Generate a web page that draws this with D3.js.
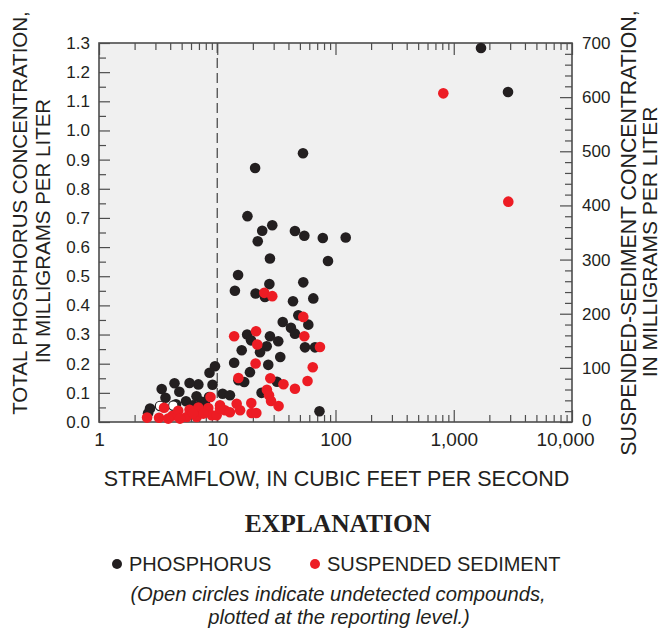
<!DOCTYPE html>
<html>
<head>
<meta charset="utf-8">
<script src="https://cdn.jsdelivr.net/npm/d3@7"></script>
<style>
  body { margin: 0; background: #fff; }
  svg { display: block; font-family: "Liberation Sans", Arial, sans-serif; }
</style>
</head>
<body>
<svg width="662" height="629"></svg>
<script>
// streamflow (cfs) vs total phosphorus (mg/L)
const phosFlow = [1700, 2876, 53.1, 20.9, 18.0, 24.0, 29.2, 45.4, 54.5, 78.1, 122, 22.0, 27.9, 86.4, 15.0,
  14.1, 27.6, 53.4, 21.1, 25.3, 43.7, 64.9, 35.8, 48.5, 42.0, 45.4, 58.9, 17.9, 19.3, 27.9, 32.8, 26.2,
  23.0, 16.1, 34.1, 13.9, 27.0, 18.9, 15.1, 16.9, 32.0, 23.7, 73.2, 67.1, 55.2, 9.57, 8.60, 9.12, 11.1,
  12.8, 6.92, 5.83, 4.35, 3.39, 4.78, 3.65, 6.68, 5.44, 7.39, 8.52, 2.70, 2.60, 6.24, 7.88, 4.48];
const phosConc = [1.283, 1.132, 0.922, 0.871, 0.706, 0.656, 0.675, 0.655, 0.639, 0.631, 0.633, 0.620, 0.561,
  0.552, 0.504, 0.450, 0.473, 0.479, 0.441, 0.429, 0.414, 0.424, 0.343, 0.366, 0.323, 0.303, 0.334, 0.300,
  0.280, 0.294, 0.277, 0.260, 0.239, 0.246, 0.223, 0.203, 0.196, 0.171, 0.143, 0.137, 0.138, 0.100, 0.037,
  0.256, 0.256, 0.191, 0.169, 0.128, 0.097, 0.092, 0.129, 0.134, 0.133, 0.113, 0.104, 0.083, 0.088, 0.071,
  0.069, 0.086, 0.046, 0.030, 0.057, 0.061, 0.061];

// undetected phosphorus, plotted at reporting level
const openFlow = [3.28, 4.25];
const openConc = [0.055, 0.056];

// streamflow (cfs) vs suspended sediment (mg/L)
const sedFlow = [816, 2893, 25.0, 29.2, 53.4, 54.5, 73.9, 13.9, 21.3, 21.8, 21.1, 15.1, 28.1, 36.3, 64.2,
  58.0, 45.4, 26.3, 27.4, 28.5, 33.0, 19.4, 19.5, 21.4, 14.6, 10.55, 8.77, 3.55, 2.55, 3.22, 4.18, 4.68,
  5.83, 6.92, 8.40, 11.6, 8.98, 5.51, 6.70, 4.84, 3.85, 7.62, 9.89, 12.8, 15.6, 10.55, 6.24];
const sedConc = [607, 407, 238.5, 232.4, 194.1, 158.4, 138.6, 158.4, 167.7, 143.1, 108, 81.3, 80.8, 69.7,
  101.1, 75.8, 61.4, 59.5, 49.4, 38.8, 29.4, 35.1, 16.6, 16.6, 33.6, 30.9, 46.2, 26.2, 8.1, 7.8, 11.5,
  20.7, 22.6, 26.6, 25.9, 21.6, 12.4, 9.2, 9.2, 6.3, 6.3, 15.5, 12.4, 17.9, 21.6, 24.8, 16.1];

const xTicks = [1, 10, 100, 1000, 10000];
const phosTicks = d3.range(0, 14).map(i => i / 10);
const sedTicks = [0, 100, 200, 300, 400, 500, 600, 700];
const refFlow = 10;

const plot = { l: 99, r: 572, t: 43, b: 422 };
const svg = d3.select("svg");
const axisColor = "#4d4d4d";

const x = d3.scaleLog().domain([1, 10000]).range([plot.l, plot.r]);
const yP = d3.scaleLinear().domain([0, 1.3]).range([plot.b, plot.t]);
const yS = d3.scaleLinear().domain([0, 700]).range([plot.b, plot.t]);

svg.append("rect")
  .attr("x", plot.l).attr("y", plot.t)
  .attr("width", plot.r - plot.l).attr("height", plot.b - plot.t)
  .attr("fill", "#f0f0f0");

// minor ticks on x: 2..9 in every decade
const xMinor = [];
for (let d = 1; d < 10000; d *= 10) for (let k = 2; k < 10; k++) xMinor.push(d * k);

function styleAxis(g) {
  g.select(".domain").remove();
  g.selectAll("line").attr("stroke", axisColor).attr("stroke-width", 1.2);
  g.selectAll("text").attr("fill", "#231f20");
}

// bottom
svg.append("g").attr("transform", `translate(0,${plot.b})`)
  .call(d3.axisBottom(x).tickValues(xMinor).tickSize(-7).tickFormat(""))
  .call(styleAxis);
svg.append("g").attr("transform", `translate(0,${plot.b})`)
  .call(d3.axisBottom(x).tickValues(xTicks).tickSize(-12).tickPadding(11).tickFormat(d3.format(",")))
  .call(styleAxis)
  .selectAll("text").attr("font-size", 19)
  .attr("dx", d => d === 10000 ? -7 : 0);
// top
svg.append("g").attr("transform", `translate(0,${plot.t})`)
  .call(d3.axisTop(x).tickValues(xMinor).tickSize(-7).tickFormat(""))
  .call(styleAxis);
svg.append("g").attr("transform", `translate(0,${plot.t})`)
  .call(d3.axisTop(x).tickValues(xTicks).tickSize(-12).tickFormat(""))
  .call(styleAxis);
// left
svg.append("g").attr("transform", `translate(${plot.l},0)`)
  .call(d3.axisLeft(yP).tickValues(phosTicks.map(v => v + 0.05).filter(v => v < 1.3)).tickSize(-7).tickFormat(""))
  .call(styleAxis);
svg.append("g").attr("transform", `translate(${plot.l},0)`)
  .call(d3.axisLeft(yP).tickValues(phosTicks).tickSize(-11).tickPadding(9).tickFormat(d3.format(".1f")))
  .call(styleAxis)
  .selectAll("text").attr("font-size", 17);
// right
const sedMinor = d3.range(20, 700, 20).filter(v => v % 100 !== 0);
svg.append("g").attr("transform", `translate(${plot.r},0)`)
  .call(d3.axisRight(yS).tickValues(sedMinor).tickSize(-7).tickFormat(""))
  .call(styleAxis);
svg.append("g").attr("transform", `translate(${plot.r},0)`)
  .call(d3.axisRight(yS).tickValues(sedTicks).tickSize(-12).tickPadding(10).tickFormat(d3.format("d")))
  .call(styleAxis)
  .selectAll("text").attr("font-size", 17)
  .attr("dy", d => d === 0 ? "0.2em" : "0.32em");

// frame
svg.append("rect")
  .attr("x", plot.l).attr("y", plot.t)
  .attr("width", plot.r - plot.l).attr("height", plot.b - plot.t)
  .attr("fill", "none").attr("stroke", axisColor).attr("stroke-width", 1.6);

// dashed line at 10 cfs
svg.append("line")
  .attr("x1", x(refFlow)).attr("x2", x(refFlow))
  .attr("y1", plot.t).attr("y2", plot.b)
  .attr("stroke", axisColor).attr("stroke-width", 1.3)
  .attr("stroke-dasharray", "10,5");

const r = 5.3;
const phos = phosFlow.map((f, i) => ({ f, c: phosConc[i] }));
const open = openFlow.map((f, i) => ({ f, c: openConc[i] }));
const sed = sedFlow.map((f, i) => ({ f, c: sedConc[i] }));

svg.append("g").selectAll("circle").data(phos).join("circle")
  .attr("cx", d => x(d.f)).attr("cy", d => yP(d.c)).attr("r", r)
  .attr("fill", "#231f20");
svg.append("g").selectAll("circle").data(open).join("circle")
  .attr("cx", d => x(d.f)).attr("cy", d => yP(d.c)).attr("r", r - 0.6)
  .attr("fill", "#fff").attr("stroke", "#231f20").attr("stroke-width", 1.2);
svg.append("g").selectAll("circle").data(sed).join("circle")
  .attr("cx", d => x(d.f)).attr("cy", d => yS(d.c)).attr("r", r)
  .attr("fill", "#ed1c24");

// axis titles
function vText(tx, ty, str, size) {
  svg.append("text")
    .attr("transform", `translate(${tx},${ty}) rotate(-90)`)
    .attr("text-anchor", "middle").attr("font-size", size).attr("fill", "#231f20")
    .text(str);
}
vText(27, 213, "TOTAL PHOSPHORUS CONCENTRATION,", 20.5);
vText(50, 231, "IN MILLIGRAMS PER LITER", 20.5);
vText(636, 233, "SUSPENDED-SEDIMENT CONCENTRATION,", 21.3);
vText(657, 242, "IN MILLIGRAMS PER LITER", 21);

svg.append("text")
  .attr("x", (plot.l + plot.r) / 2 + 1).attr("y", 486)
  .attr("text-anchor", "middle").attr("font-size", 21.5).attr("fill", "#231f20")
  .text("STREAMFLOW, IN CUBIC FEET PER SECOND");

// explanation
svg.append("text")
  .attr("x", 338).attr("y", 532)
  .attr("text-anchor", "middle")
  .attr("font-family", "'Liberation Serif', 'Times New Roman', serif")
  .attr("font-weight", "bold").attr("font-size", 25.5).attr("fill", "#231f20")
  .text("EXPLANATION");

const legend = [
  { label: "PHOSPHORUS", color: "#231f20", x: 117 },
  { label: "SUSPENDED SEDIMENT", color: "#ed1c24", x: 315 }
];
const lg = svg.append("g").selectAll("g").data(legend).join("g")
  .attr("transform", d => `translate(${d.x},564)`);
lg.append("circle").attr("r", 5).attr("fill", d => d.color);
lg.append("text").attr("x", 12).attr("y", 7)
  .attr("font-size", 20).attr("fill", "#231f20")
  .text(d => d.label);

svg.append("text")
  .attr("x", 338).attr("y", 601)
  .attr("text-anchor", "middle").attr("font-style", "italic")
  .attr("font-size", 20.2).attr("fill", "#231f20")
  .text("(Open circles indicate undetected compounds,");
svg.append("text")
  .attr("x", 339).attr("y", 624)
  .attr("text-anchor", "middle").attr("font-style", "italic")
  .attr("font-size", 20.2).attr("fill", "#231f20")
  .text("plotted at the reporting level.)");
</script>
</body>
</html>
